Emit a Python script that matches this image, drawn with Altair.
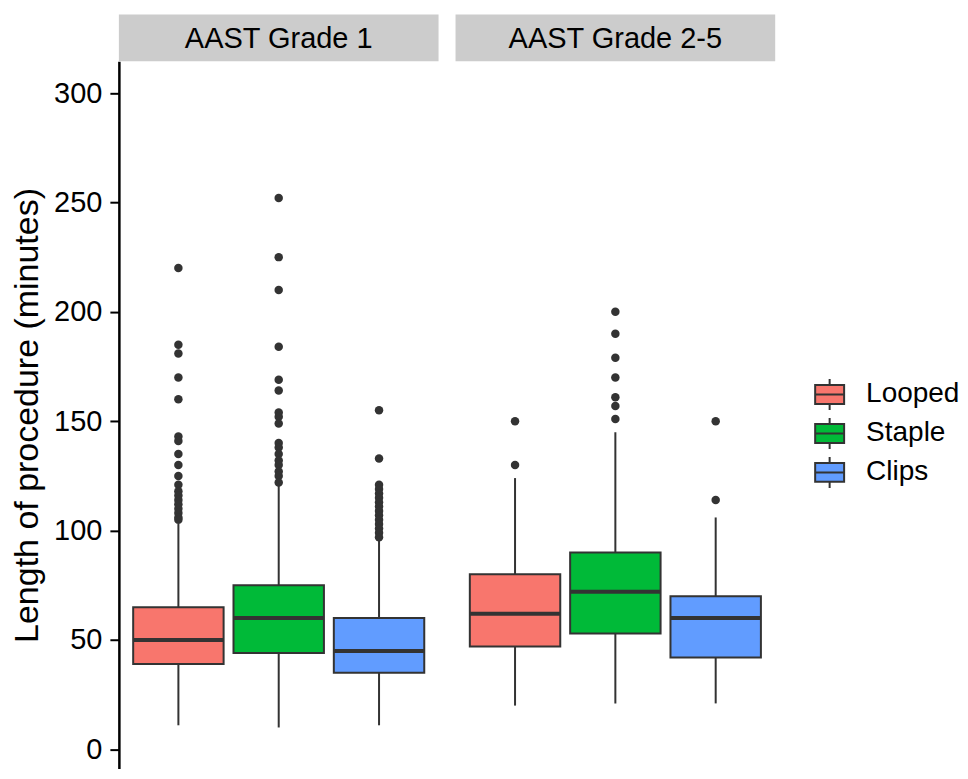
import altair as alt
import pandas as pd

grades = ["AAST Grade 1", "AAST Grade 2-5"]
methods = ["Looped", "Staple", "Clips"]
colors = ["#F8766D", "#00BA38", "#619CFF"]

# box statistics per grade (rows) and method (columns)
q1 = [[39, 44, 35], [47, 53, 42]]
med = [[50, 60, 45], [62, 72, 60]]
q3 = [[65, 75, 60], [80, 90, 70]]
lo = [[11, 10, 11], [20, 21, 21]]
hi = [[103, 121, 96], [124, 145, 106]]

outliers = {
    ("AAST Grade 1", "Looped"): [220, 185, 181, 170, 160, 143, 141, 135, 130, 125, 121,
                                 118, 116, 114, 112, 110, 108, 106, 105],
    ("AAST Grade 1", "Staple"): [252, 225, 210, 184, 169, 164, 154, 152, 149, 140, 138,
                                 135, 132, 130, 127, 125, 122],
    ("AAST Grade 1", "Clips"): [155, 133, 121, 119, 117, 115, 113, 111, 109, 107, 105,
                                103, 101, 99, 97],
    ("AAST Grade 2-5", "Looped"): [150, 130],
    ("AAST Grade 2-5", "Staple"): [200, 190, 179, 170, 161, 157, 151],
    ("AAST Grade 2-5", "Clips"): [150, 114],
}

rows = []
for gi, g in enumerate(grades):
    for mi, m in enumerate(methods):
        rows.append(dict(grade=g, method=m, kind="box", q1=q1[gi][mi], median=med[gi][mi],
                         q3=q3[gi][mi], lo=lo[gi][mi], hi=hi[gi][mi]))
        for v in outliers[(g, m)]:
            rows.append(dict(grade=g, method=m, kind="out", value=v))
df = pd.DataFrame(rows)

FONT = "Liberation Sans"
PW = 320
PH = 708

xenc = alt.X("method:N", sort=methods, axis=None,
             scale=alt.Scale(paddingInner=0.0986, paddingOuter=0.1425))
yscale = alt.Scale(domain=[-8.8, 314.5], nice=False, zero=False)
yaxis = alt.Axis(values=[0, 50, 100, 150, 200, 250, 300], title="Length of procedure (minutes)",
                 grid=False, domainColor="black", domainWidth=2.5, tickColor="black",
                 tickWidth=2, tickSize=9, labelFontSize=29, labelColor="black",
                 labelPadding=8, titleFontSize=34, titleFontWeight="normal",
                 titleColor="black", titlePadding=9)

strip = alt.Chart().transform_filter(
    "datum.kind == 'box' && datum.method == 'Looped'"
).mark_rect(fill="#CCCCCC").encode(
    x=alt.value(0), x2=alt.value(PW), y=alt.value(-47), y2=alt.value(0)
)
strip_text = alt.Chart().transform_filter(
    "datum.kind == 'box' && datum.method == 'Looped'"
).mark_text(fontSize=29, color="black", baseline="middle", align="center").encode(
    text="grade:N", x=alt.value(PW / 2), y=alt.value(-22)
)

whisker = alt.Chart().transform_filter("datum.kind == 'box'").mark_rule(
    color="#333333", strokeWidth=2
).encode(x=xenc, y=alt.Y("lo:Q", scale=yscale, axis=yaxis), y2="hi:Q")

legend_path = "M-0.935,-0.61H0.935V0.61H-0.935Z M-0.935,0H0.935 M0,-0.61V-1 M0,0.61V1"
box = alt.Chart().transform_filter("datum.kind == 'box'").mark_bar(
    stroke="#333333", strokeWidth=2, opacity=1
).encode(
    x=xenc,
    y=alt.Y("q1:Q", scale=yscale, axis=yaxis),
    y2="q3:Q",
    fill=alt.Fill("method:N", sort=methods,
                  scale=alt.Scale(domain=methods, range=colors),
                  legend=alt.Legend(title=None, orient="none", legendX=695, legendY=317,
                                    symbolType=legend_path, symbolSize=961,
                                    symbolStrokeColor="#333333", symbolStrokeWidth=2,
                                    labelFontSize=28, labelColor="black", labelOffset=20,
                                    rowPadding=0, padding=0)),
)
median = alt.Chart().transform_filter("datum.kind == 'box'").mark_tick(
    color="#333333", thickness=4, size=90, opacity=1
).encode(x=xenc, y=alt.Y("median:Q", scale=yscale, axis=yaxis))

pts = alt.Chart().transform_filter("datum.kind == 'out'").mark_circle(
    color="#333333", size=72, opacity=1
).encode(x=xenc, y=alt.Y("value:Q", scale=yscale, axis=yaxis))

layered = alt.layer(strip, strip_text, whisker, box, median, pts, data=df).properties(
    width=PW, height=PH
)

chart = layered.facet(
    column=alt.Column("grade:N", sort=grades, header=alt.Header(labels=False, title=None)),
    spacing=17,
).configure(
    font=FONT,
    padding={"left": 2, "top": 6, "right": 0, "bottom": 0},
).configure_view(stroke=None)

chart.save("out.html", embed_options={"renderer": "svg", "actions": False})
